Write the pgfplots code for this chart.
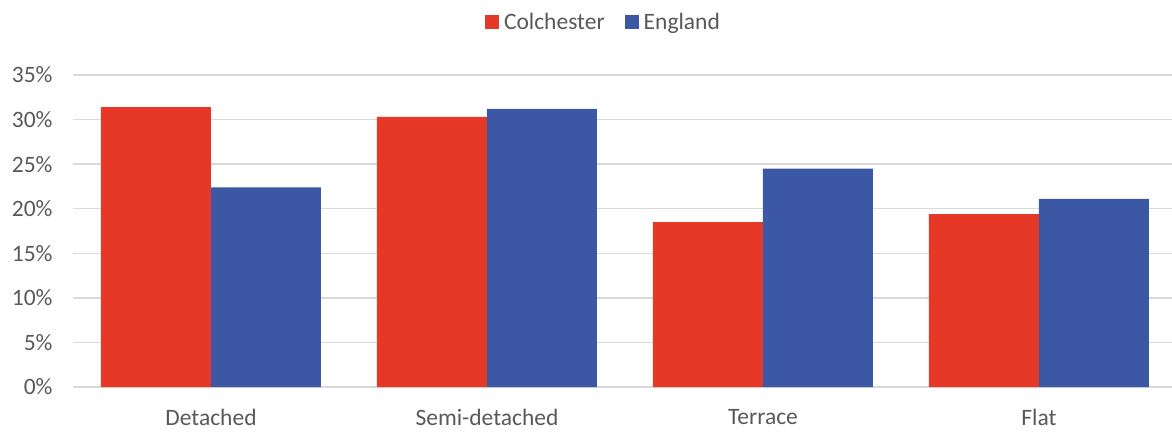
\documentclass[border=0pt]{standalone}
\usepackage{fontspec}
\setmainfont{Carlito}
\usepackage{pgfplots}
\pgfplotsset{compat=1.18}
\definecolor{cred}{HTML}{E63826}
\definecolor{cblue}{HTML}{3C58A4}
\definecolor{grid}{HTML}{D9D9D9}
\definecolor{txt}{HTML}{595959}
\begin{document}
\begin{tikzpicture}[x=1pt,y=1pt]
\useasboundingbox (0,0) rectangle (1172,432);
\begin{axis}[
  at={(73pt,45pt)}, anchor=south west,
  scale only axis, width=1099pt, height=312pt,
  xmin=-0.5, xmax=3.482, ymin=0, ymax=35,
  ybar=0pt, bar width=110pt,
  xtick={0,1,2,3},
  xticklabels={Detached,Semi-detached,Terrace,Flat},
  ytick={0,5,10,15,20,25,30,35},
  yticklabel={\pgfmathprintnumber{\tick}\%},
  /pgf/number format/assume math mode=true,
  ticklabel style={font=\fontsize{23.5}{28}\selectfont, text=txt},
  xticklabel style={yshift=-19pt},
  yticklabel style={xshift=-17pt},
  major tick length=0pt,
  axis line style={draw=none},
  ymajorgrids, grid style={draw=grid, line width=1.5pt},
  clip=false,
  legend style={at={(0.4827,1.17)}, anchor=center, draw=none,
    font=\fontsize{23.5}{28}\selectfont, text=txt,
    legend columns=2,
    /tikz/every odd column/.append style={column sep=3pt},
    /tikz/every even column/.append style={column sep=18pt}},
  legend image code/.code={\fill[#1] (0pt,-7pt) rectangle (14pt,7pt);},
]
\addplot[fill=cred, draw=none] coordinates {(0,31.4) (1,30.3) (2,18.5) (3,19.4)};
\addplot[fill=cblue, draw=none] coordinates {(0,22.4) (1,31.2) (2,24.5) (3,21.1)};
\legend{Colchester,England}
\end{axis}
\end{tikzpicture}
\end{document}
